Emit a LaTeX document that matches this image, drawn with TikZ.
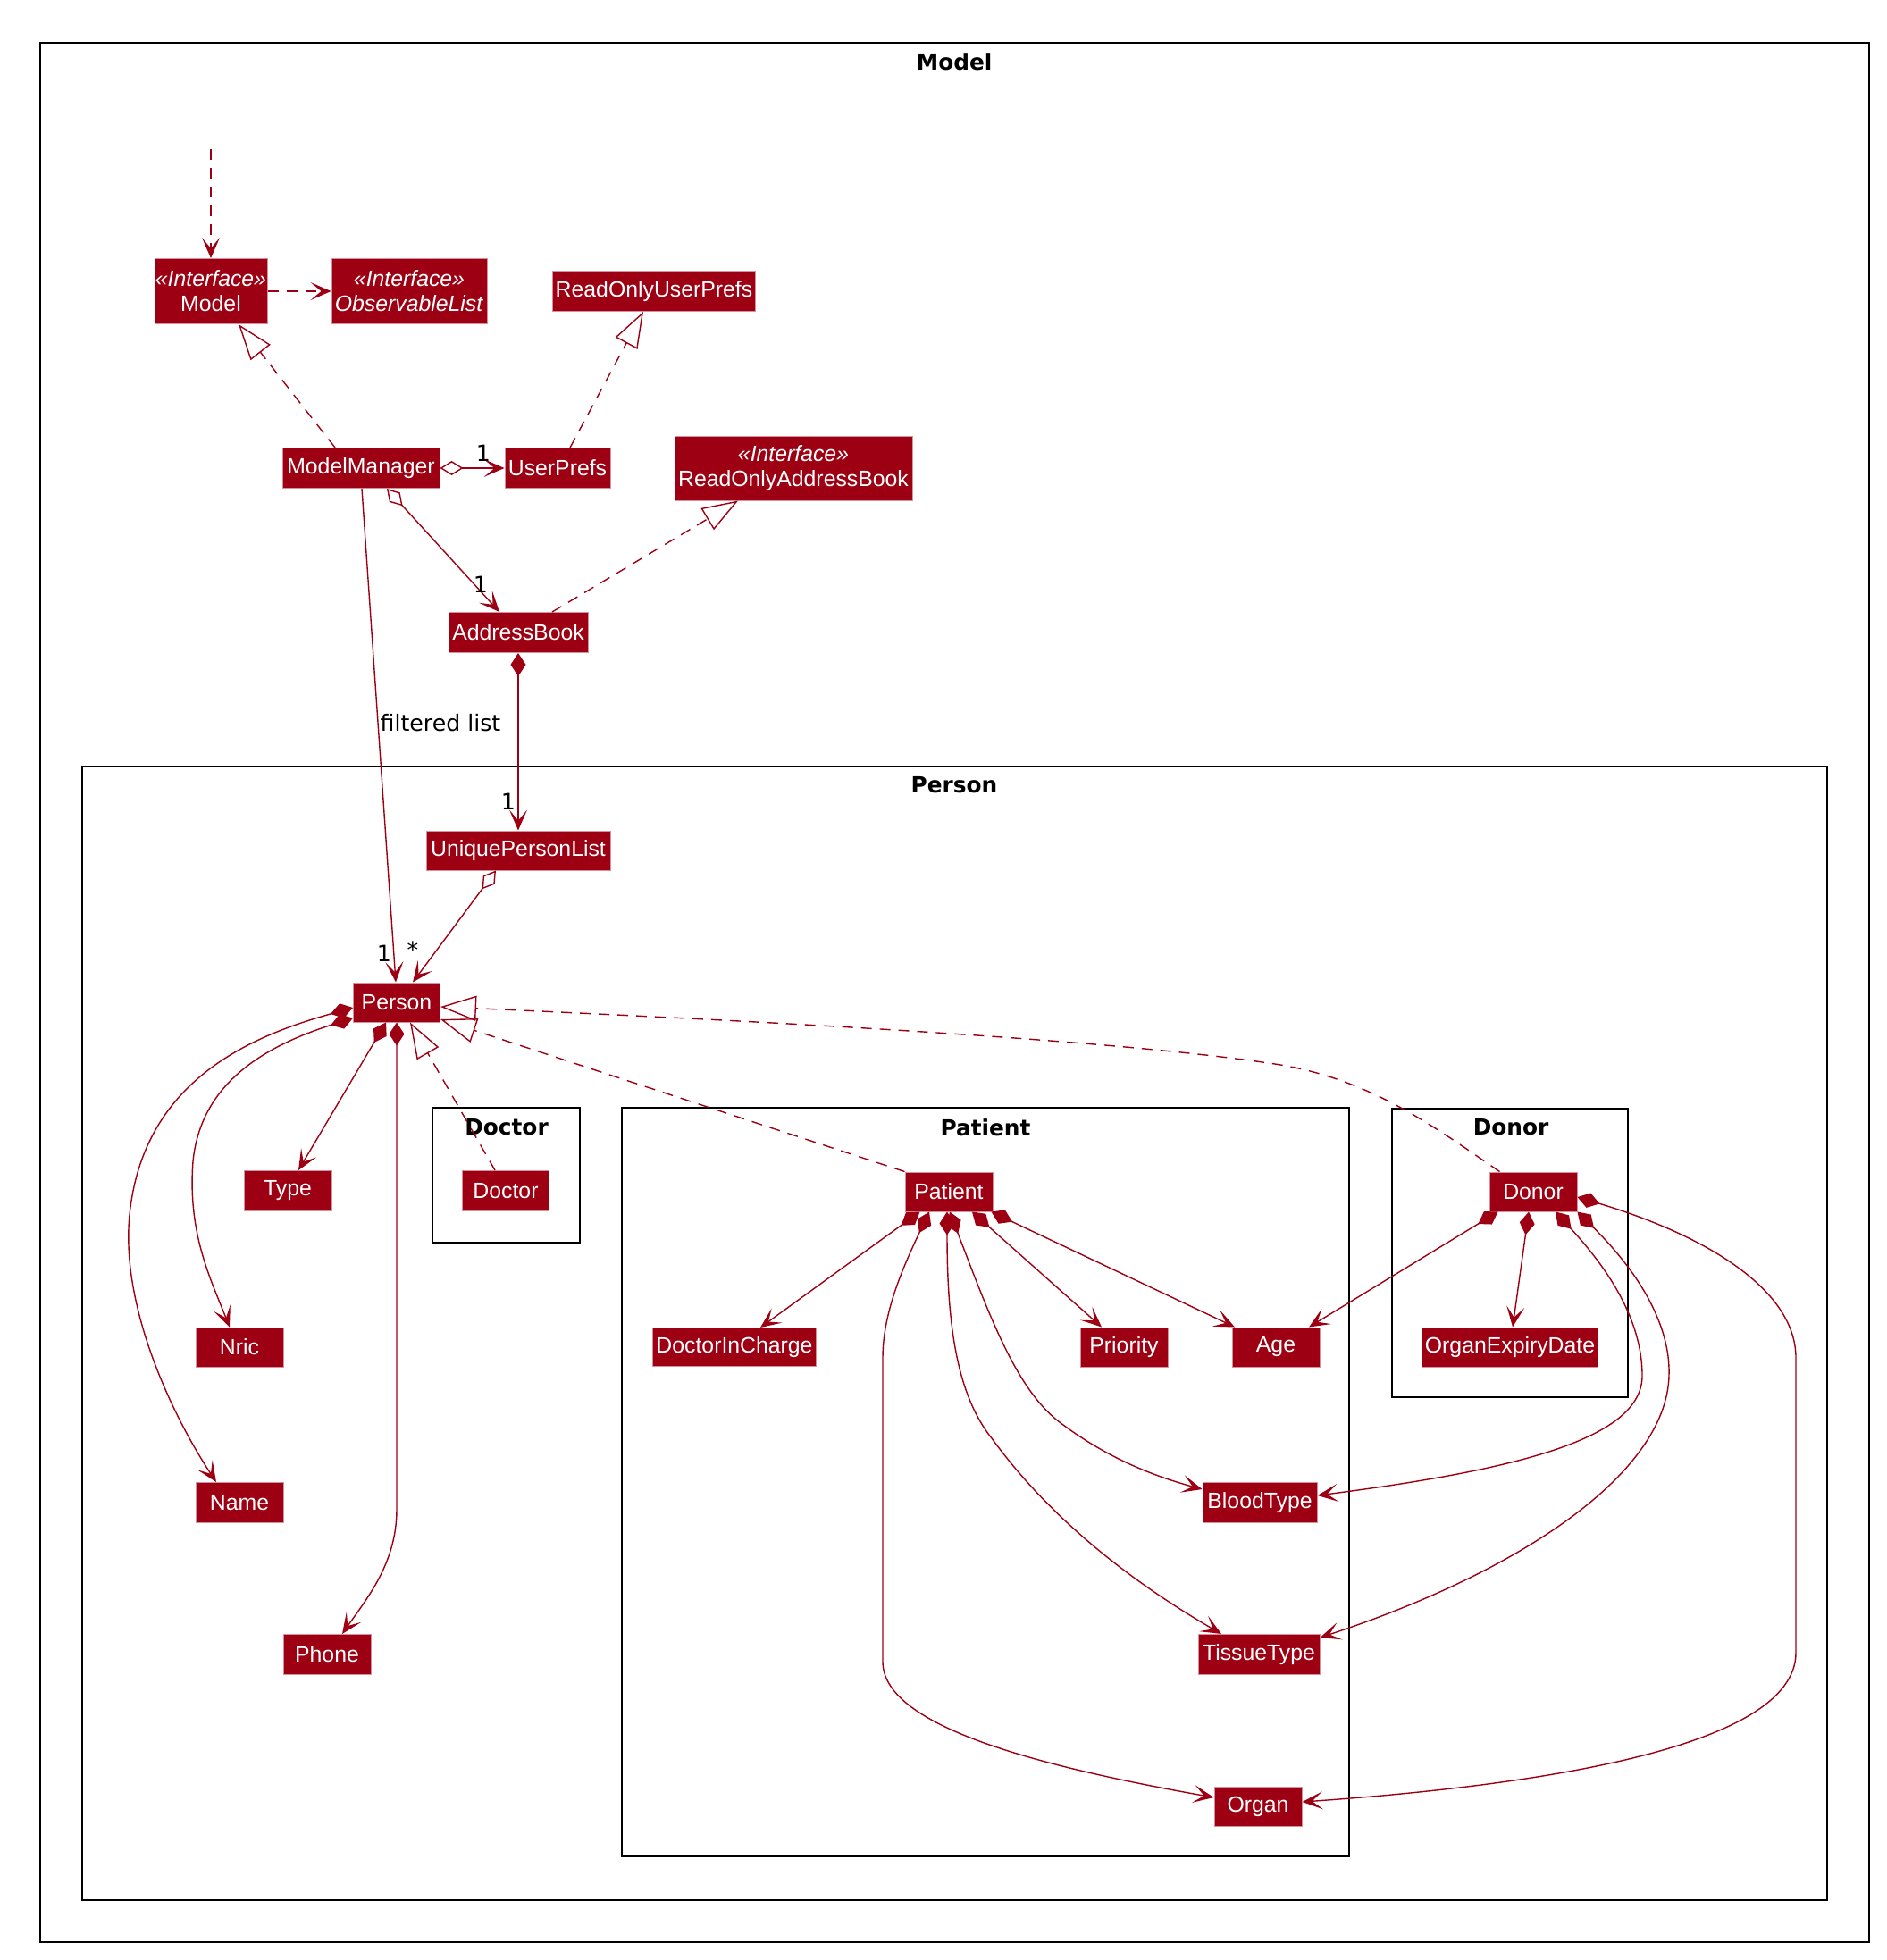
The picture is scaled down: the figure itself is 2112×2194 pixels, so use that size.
\documentclass[tikz,border=0pt]{standalone}
\usepackage{fontspec}
\setmainfont{Liberation Sans}
\newfontfamily\dejavu{DejaVu Sans}
\usetikzlibrary{arrows.meta,calc}
\definecolor{pured}{HTML}{9D0012}
\definecolor{puborder}{HTML}{D8909A}
\tikzset{
  cls/.style={fill=pured, draw=puborder, line width=0.5pt, text=white, inner sep=0pt,
    align=center, font=\fontsize{12.4}{14}\selectfont},
  frm/.style={draw=black, line width=1.35pt},
  ttl/.style={font=\dejavu\bfseries\fontsize{12.4}{14}\selectfont, inner sep=0pt},
  lbl/.style={font=\dejavu\fontsize{12.6}{14}\selectfont, inner sep=0pt, text=black},
  edge/.style={draw=pured, line width=0.7pt},
  dsh/.style={edge, dash pattern=on 6pt off 4.5pt},
  puarrow/.tip={Stealth[length=11.5pt,width=10pt,inset=6pt]},
  pucomp/.tip={Diamond[length=13pt,width=8.5pt]},
  puagg/.tip={Diamond[length=13pt,width=8pt,fill=white]},
  pureal/.tip={Triangle[length=20pt,width=14pt,fill=white]},
  depend/.style={dsh, -puarrow},
  realize/.style={dsh, -pureal},
  assoc/.style={edge, -puarrow},
  aggr/.style={edge, puagg-puarrow},
  compo/.style={edge, pucomp-puarrow},
}
\begin{document}
\begin{tikzpicture}[x=0.5pt,y=-0.5pt]
\useasboundingbox (0,0) rectangle (2112,2194);
% frames
\draw[frm] (45,48) rectangle (2092,2174);
\node[ttl] (tModel) at (1068,69) {Model};
\draw[frm] (92,858) rectangle (2045,2127);
\node[ttl] (tPerson) at (1068,879) {Person};
\draw[frm] (484,1240) rectangle (649,1391);
\node[ttl] (tDoctor) at (567,1262) {Doctor};
\draw[frm] (696,1240) rectangle (1510,2078);
\node[ttl] (tPatient) at (1103,1262) {Patient};
\draw[frm] (1558,1241) rectangle (1822,1564);
\node[ttl] (tDonor) at (1691,1262) {Donor};

% classes
\node[cls, minimum width=63pt, minimum height=36.5pt] (Model) at (236,326) {\textit{«Interface»}\\Model};
\node[cls, minimum width=87pt, minimum height=36.5pt] (ObservableList) at (458,326) {\textit{«Interface»}\\\textit{ObservableList}};
\node[cls, minimum width=113.5pt, minimum height=22.5pt] (ReadOnlyUserPrefs) at (732,326) {ReadOnlyUserPrefs};
\node[cls, minimum width=88pt, minimum height=22.5pt] (ModelManager) at (404,524) {ModelManager};
\node[cls, minimum width=59pt, minimum height=22.5pt] (UserPrefs) at (624,524) {UserPrefs};
\node[cls, minimum width=133pt, minimum height=36pt] (ReadOnlyAddressBook) at (888,524) {\textit{«Interface»}\\ReadOnlyAddressBook};
\node[cls, minimum width=78pt, minimum height=22.5pt] (AddressBook) at (580,708) {AddressBook};
\node[cls, minimum width=103pt, minimum height=22pt] (UniquePersonList) at (580,952) {UniquePersonList};
\node[cls, minimum width=48.5pt, minimum height=22pt] (Person) at (444,1122) {Person};
\node[cls, minimum width=49pt, minimum height=22.5pt] (Type) at (322,1333) {Type};
\node[cls, minimum width=48.5pt, minimum height=22.5pt] (Doctor) at (566,1333) {Doctor};
\node[cls, minimum width=49pt, minimum height=22pt] (Nric) at (268,1508) {Nric};
\node[cls, minimum width=49pt, minimum height=22.5pt] (Name) at (268,1682) {Name};
\node[cls, minimum width=49pt, minimum height=22.5pt] (Phone) at (366,1852) {Phone};
\node[cls, minimum width=49pt, minimum height=22pt] (Patient) at (1062,1334) {Patient};
\node[cls, minimum width=91.5pt, minimum height=21.5pt] (DoctorInCharge) at (822,1508) {DoctorInCharge};
\node[cls, minimum width=49pt, minimum height=22pt] (Priority) at (1258,1508) {Priority};
\node[cls, minimum width=49pt, minimum height=22pt] (Age) at (1428,1508) {Age};
\node[cls, minimum width=64pt, minimum height=22.5pt] (BloodType) at (1410,1682) {BloodType};
\node[cls, minimum width=68pt, minimum height=22.5pt] (TissueType) at (1409,1852) {TissueType};
\node[cls, minimum width=49pt, minimum height=22pt] (Organ) at (1408,2022) {Organ};
\node[cls, minimum width=49pt, minimum height=22pt] (Donor) at (1716,1334) {Donor};
\node[cls, minimum width=98.5pt, minimum height=22pt] (OrganExpiryDate) at (1690,1508) {OrganExpiryDate};

% top part
\coordinate (ext) at (236,167);
\draw[depend] (ext) -- (Model.north);
\draw[depend] (Model.east) -- (ObservableList.west);
\draw[realize] ($(ModelManager.north)+(-29,0)$) -- ($(Model.south)+(31,0)$);
\draw[realize] ($(UserPrefs.north)+(14,0)$) -- ($(ReadOnlyUserPrefs.south)+(-12,0)$);
\draw[aggr] (ModelManager.east) -- (UserPrefs.west);
\node[lbl] (l1) at (541,507) {1};
\draw[aggr] ($(ModelManager.south)+(29,0)$) -- ($(AddressBook.north)+(-21,0)$);
\node[lbl] (l2) at (538,654) {1};
\draw[realize] ($(AddressBook.north)+(38,0)$) -- ($(ReadOnlyAddressBook.south)+(-62,0)$);
\draw[compo] (AddressBook.south) -- (UniquePersonList.north);
\node[lbl] (l3) at (569,897) {1};
\draw[assoc] ($(ModelManager.south)+(1,0)$) -- ($(Person.north)+(-1,0)$);
\node[lbl] (lf) at (493,809) {filtered list};
\node[lbl] (l4) at (430,1067) {1};
\draw[aggr] ($(UniquePersonList.south)+(-25,0)$) -- ($(Person.north)+(18,0)$);
\node[lbl] (l5) at (462,1063) {*};

% Person compositions
\draw[compo] ($(Person.south)+(-12,0)$) -- ($(Type.north)+(12,0)$);
\draw[compo] ($(Person.south west)+(0,-5)$) .. controls (300,1170) and (225,1210) .. (216,1300)
   .. controls (210,1380) and (235,1430) .. ($(Nric.north)+(-11,0)$);
\draw[compo] ($(Person.west)+(0,6)$) .. controls (280,1160) and (160,1210) .. (145,1360)
   .. controls (135,1460) and (190,1580) .. ($(Name.north)+(-26,0)$);
\draw[compo] (Person.south) -- (444,1690) .. controls (444,1750) and (410,1790) .. ($(Phone.north)+(17,0)$);

% realizations of Person
\draw[realize] ($(Doctor.north)+(-12,0)$) -- ($(Person.south east)+(-34,0)$);
\draw[realize] (Patient.north west) -- ($(Person.east)+(0,19)$);
\draw[realize] ($(Donor.north west)+(12,0)$) .. controls (1600,1258) and (1530,1205) .. (1420,1190)
   .. controls (1250,1165) and (900,1145) .. ($(Person.east)+(0,5)$);

% Patient compositions
\draw[compo] ($(Patient.south west)+(17,0)$) -- ($(DoctorInCharge.north)+(29,0)$);
\draw[compo] ($(Patient.south)+(-22,0)$) .. controls (1010,1420) and (988,1470) .. (988,1520)
   -- (988,1860) .. controls (988,1930) and (1150,1975) .. ($(Organ.west)+(0,-10)$);
\draw[compo] ($(Patient.south)+(-2,0)$) .. controls (1060,1480) and (1070,1560) .. (1110,1610)
   .. controls (1190,1720) and (1300,1790) .. ($(TissueType.north)+(-42,0)$);
\draw[compo] ($(Patient.south)+(1,0)$) .. controls (1110,1480) and (1140,1560) .. (1190,1595)
   .. controls (1240,1632) and (1290,1652) .. ($(BloodType.west)+(0,-15)$);
\draw[compo] ($(Patient.south)+(26,0)$) -- ($(Priority.north)+(-25,0)$);
\draw[compo] ($(Patient.south east)+(-2,0)$) -- ($(Age.north)+(-46,0)$);

% Donor compositions
\draw[compo] ($(Donor.south west)+(10,0)$) -- ($(Age.north)+(37,0)$);
\draw[compo] ($(Donor.south)+(-5,0)$) -- ($(OrganExpiryDate.north)+(3,0)$);
\draw[compo] ($(Donor.south)+(25,0)$) .. controls (1790,1410) and (1838,1470) .. (1838,1540)
   .. controls (1838,1610) and (1700,1645) .. ($(BloodType.east)+(0,-8)$);
\draw[compo] (Donor.south east) .. controls (1830,1420) and (1870,1480) .. (1868,1540)
   .. controls (1865,1650) and (1700,1760) .. ($(TissueType.east)+(0,-19)$);
\draw[compo] ($(Donor.east)+(0,6)$) .. controls (1900,1380) and (2010,1440) .. (2010,1520)
   -- (2010,1850) .. controls (2010,1960) and (1700,2000) .. ($(Organ.east)+(0,-5)$);
\end{tikzpicture}
\end{document}
